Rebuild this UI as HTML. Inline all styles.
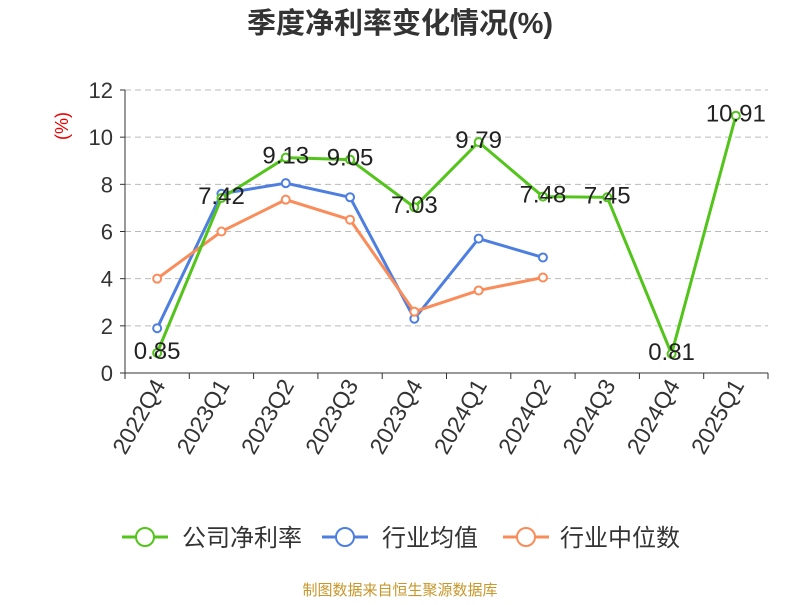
<!DOCTYPE html>
<html><head><meta charset="utf-8"><style>
body{margin:0;background:#fff;font-family:"Liberation Sans","Noto Sans CJK SC",sans-serif}
</style></head><body>
<svg id="chart" width="800" height="600" xmlns="http://www.w3.org/2000/svg" font-family="Liberation Sans, Noto Sans CJK SC, sans-serif">
<text x="400" y="33" text-anchor="middle" font-size="29" font-weight="bold" fill="#333">季度净利率变化情况(%)</text>
<text x="68" y="126" font-size="18" fill="#e00" transform="rotate(-90 68 126)" text-anchor="middle">(%)</text>
<g id="grid"></g><g id="axes"></g><g id="series"></g>
<g>
<g><line x1="122" y1="537" x2="168" y2="537" stroke="#52c41a" stroke-width="3"/><circle cx="145" cy="537" r="9" fill="#fff" stroke="#52c41a" stroke-width="2"/><text x="182" y="546" font-size="24" fill="#333">公司净利率</text></g>
<g><line x1="322" y1="537" x2="368" y2="537" stroke="#4e7fe0" stroke-width="3"/><circle cx="345" cy="537" r="9" fill="#fff" stroke="#4e7fe0" stroke-width="2"/><text x="382" y="546" font-size="24" fill="#333">行业均值</text></g>
<g><line x1="503" y1="537" x2="549" y2="537" stroke="#fa8c5a" stroke-width="3"/><circle cx="526" cy="537" r="9" fill="#fff" stroke="#fa8c5a" stroke-width="2"/><text x="560" y="546" font-size="24" fill="#333">行业中位数</text></g>
</g>
<text x="400" y="595" text-anchor="middle" font-size="15" fill="#c8962a">制图数据来自恒生聚源数据库</text>
</svg>
<script>
const categories=["2022Q4","2023Q1","2023Q2","2023Q3","2023Q4","2024Q1","2024Q2","2024Q3","2024Q4","2025Q1"];
const companyValues=[0.85,7.42,9.13,9.05,7.03,9.79,7.48,7.45,0.81,10.91];
const industryAvg=[1.9,7.6,8.05,7.45,2.3,5.7,4.9];
const industryMedian=[4.0,6.0,7.35,6.5,2.6,3.5,4.05];
const yTicks=[0,2,4,6,8,10,12];
const NS="http://www.w3.org/2000/svg";
const L=125,R=768,T=90,B=373,ymax=12;
const bw=(R-L)/categories.length;
const xs=i=>L+bw*(i+0.5);
const ys=v=>B-(v/ymax)*(B-T);
function mk(tag,attrs,parent){const e=document.createElementNS(NS,tag);for(const k in attrs)e.setAttribute(k,attrs[k]);parent.appendChild(e);return e;}
const grid=document.getElementById('grid'),axes=document.getElementById('axes'),series=document.getElementById('series');
yTicks.forEach(t=>{
 if(t>0){const g=mk('line',{x1:L,x2:R,y1:ys(t),y2:ys(t),stroke:'#bbb','stroke-dasharray':'6,4'},grid);
 
 }
 const tk=mk('line',{x1:L-5,x2:L,y1:ys(t),y2:ys(t),stroke:'#333'},axes);
 
 
 const tx=mk('text',{x:L-12,y:ys(t)+8,'text-anchor':'end','font-size':22,fill:'#333'},axes);tx.textContent=t;
 
 
});
const ya=mk('line',{x1:L,x2:L,y1:T,y2:B,stroke:'#333'},axes);


const xa=mk('line',{x1:L,x2:R,y1:B,y2:B,stroke:'#333'},axes);


for(let i=0;i<=categories.length;i++){const tk=mk('line',{x1:L+bw*i,x2:L+bw*i,y1:B,y2:B+6,stroke:'#333'},axes);
 
 }
categories.forEach((c,i)=>{const x=xs(i)+9,y=B+12;
 const t=mk('text',{x:x,y:y,'text-anchor':'end','font-size':23,fill:'#333',transform:`rotate(-60 ${x} ${y})`},axes);t.textContent=c;
 
 });
function drawSeries(vals,color,name,labels){
 const g=mk('g',{},series);
 
 
 const p=mk('polyline',{points:vals.map((v,i)=>xs(i)+','+ys(v)).join(' '),fill:'none',stroke:color,'stroke-width':3},g);
 
 
 vals.forEach((v,i)=>{const c=mk('circle',{cx:xs(i),cy:ys(v),r:4,fill:'#fff',stroke:color,'stroke-width':2},g);
  
  
  if(labels){const t=mk('text',{x:xs(i),y:ys(v)+6,'text-anchor':'middle','font-size':24,fill:'#222'},g);t.textContent=v.toFixed(2);
  
  }});
}
drawSeries(companyValues,'#52c41a','company-net-margin',true);
drawSeries(industryAvg,'#4e7fe0','industry-average',false);
drawSeries(industryMedian,'#fa8c5a','industry-median',false);
series.appendChild(series.firstChild);
</script>
</body></html>
